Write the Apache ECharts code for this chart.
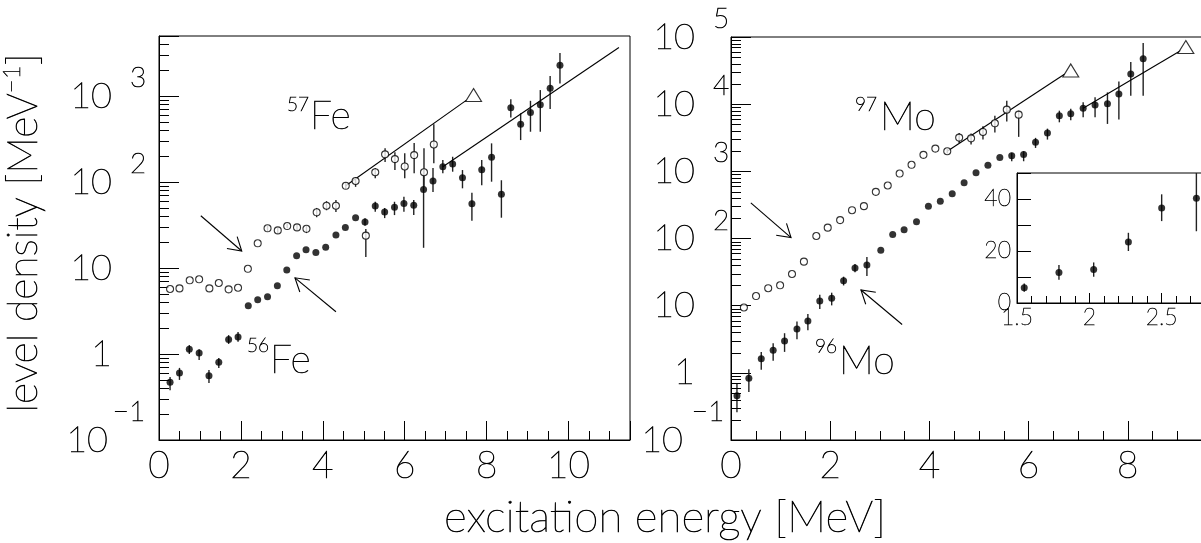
<!DOCTYPE html>
<html>
<head>
<meta charset="utf-8">
<script src="https://cdn.jsdelivr.net/npm/echarts@6/dist/echarts.min.js"></script>
<style>
  html, body { margin: 0; padding: 0; background: #fff; }
  #chart { width: 1201px; height: 543px; }
</style>
</head>
<body>
<div id="chart"></div>
<script>
// 57Fe (open circles) – excitation energy [MeV], level density [1/MeV], error bar ends
const fe57E = [0.27, 0.50, 0.75, 0.98, 1.23, 1.46, 1.70, 1.93, 2.17, 2.41, 2.65, 2.90, 3.13, 3.37, 3.60, 3.85, 4.09, 4.32, 4.56, 4.80, 5.05, 5.28, 5.52, 5.76, 6.00, 6.23, 6.47, 6.71];
const fe57V = [5.7, 5.8, 7.2, 7.4, 5.8, 6.7, 5.65, 5.9, 9.8, 19.4, 29, 27.4, 30.8, 29.7, 28.6, 44.5, 53, 53, 90.5, 103, 23.8, 130, 210, 185, 152, 206, 130, 274];
const fe57Lo = [null, null, null, null, null, null, null, null, null, null, 27, 25.5, 29, 27.5, 25.5, 39, 47, 45, 83, 88, 13.4, 111, 171, 138, 111, 127, 88, 166];
const fe57Hi = [null, null, null, null, null, null, null, null, null, null, 31, 29.5, 33, 32, 31, 50, 60, 62, 100, 114, 28.4, 146, 248, 223, 217, 284, 248, 472];

// 56Fe (filled circles)
const fe56E = [0.27, 0.50, 0.74, 0.98, 1.22, 1.46, 1.70, 1.93, 2.18, 2.41, 2.65, 2.89, 3.12, 3.36, 3.59, 3.83, 4.07, 4.32, 4.55, 4.80, 5.03, 5.28, 5.51, 5.75, 5.98, 6.22, 6.46, 6.69, 6.93, 7.17, 7.41, 7.64, 7.88, 8.12, 8.36, 8.59, 8.83, 9.07, 9.31, 9.55, 9.79];
const fe56V = [0.47, 0.60, 1.14, 1.03, 0.56, 0.80, 1.48, 1.58, 3.65, 4.28, 4.64, 6.23, 9.5, 13.9, 16.3, 15.2, 17.4, 24.2, 29.7, 38.5, 34.3, 52.6, 44.8, 50.8, 56.4, 53.6, 82, 103, 151, 162, 112, 55.8, 139, 194, 72, 731, 472, 646, 792, 1231, 2291];
const fe56Lo = [0.38, 0.50, 1.0, 0.85, 0.46, 0.69, 1.31, 1.39, null, null, null, null, null, null, null, null, null, null, null, null, 31, 45.2, 38.1, 41.3, 45.2, 41.3, 17.2, 76.5, 127, 132, 84.6, 35.5, 92, 101, 38.5, 565, 308, 385, 385, 706, 1405];
const fe56Hi = [0.54, 0.69, 1.27, 1.14, 0.65, 0.90, 1.66, 1.80, null, null, null, null, null, null, null, null, null, null, null, null, 38, 59, 49.9, 59, 67.5, 61.8, 138, 146, 180, 197, 138, 75.2, 180, 282, 105, 916, 630, 881, 1175, 1710, 3180];

// 97Mo (open circles)
const mo97E = [0.26, 0.505, 0.75, 0.99, 1.23, 1.47, 1.72, 1.95, 2.20, 2.44, 2.68, 2.92, 3.16, 3.40, 3.64, 3.88, 4.12, 4.36, 4.60, 4.84, 5.08, 5.32, 5.56, 5.80];
const mo97V = [9.4, 13.9, 18.2, 20.1, 29.6, 45.2, 109, 145, 188, 264, 303, 495, 615, 927, 1250, 1760, 2180, 1990, 3180, 3100, 3860, 5190, 8280, 6980];
const mo97Lo = [null, null, null, null, null, null, null, null, null, null, null, null, null, null, null, null, null, 1850, 2650, 2500, 2970, 3780, 5500, 3260];
const mo97Hi = [null, null, null, null, null, null, null, null, null, null, null, null, null, null, null, null, null, 2150, 3730, 3650, 4680, 6740, 11270, 8000];

// 96Mo (filled circles)
const mo96E = [0.12, 0.36, 0.61, 0.85, 1.08, 1.33, 1.55, 1.79, 2.03, 2.27, 2.50, 2.74, 3.02, 3.26, 3.49, 3.74, 3.98, 4.22, 4.46, 4.70, 4.94, 5.18, 5.42, 5.66, 5.90, 6.14, 6.38, 6.62, 6.85, 7.10, 7.34, 7.59, 7.82, 8.06, 8.31];
const mo96V = [0.455, 0.83, 1.62, 2.17, 2.99, 4.5, 5.9, 11.7, 12.9, 23.5, 36.5, 40.3, 67, 115, 135, 178, 303, 360, 463, 675, 950, 1233, 1604, 1700, 1777, 2710, 3730, 6750, 7230, 8670, 9730, 10170, 14180, 28100, 47400];
const mo96Lo = [0.26, 0.52, 1.11, 1.51, 2.05, 3.17, 4.3, 8.9, 10.1, 20, 31.5, 27.6, null, null, null, null, null, null, null, null, null, null, null, 1413, 1413, 2230, 2970, 5370, 5740, 6370, 6370, 5080, 5890, 13370, 13370];
const mo96Hi = [0.68, 1.135, 2.05, 2.76, 3.89, 5.81, 7.5, 14.6, 15.6, 27, 41.8, 53, null, null, null, null, null, null, null, null, null, null, null, 1884, 1990, 3150, 4320, 8000, 8570, 10640, 12630, 14970, 21800, 42400, 81100];

// fitted lines and normalisation points (triangles)
const fe57FitE = [4.56, 7.51], fe57FitV = [90.5, 897];
const fe56FitE = [6.93, 11.23], fe56FitV = [151, 3680];
const mo97FitE = [4.36, 6.73], mo97FitV = [1990, 28100];
const mo96FitE = [7.10, 9.07], mo96FitV = [8670, 63000];
const triFeE = [7.68], triFeV = [1030];
const triMoE = [6.85, 9.17], triMoV = [31800, 70800];

// arrows: [tailE, tailV, headE, headV]
const arrowsFe = [[1.02, 40.6, 2.02, 15.8], [4.32, 3.1, 3.32, 7.7]];
const arrowsMo = [[0.40, 340, 1.21, 103], [3.45, 5.24, 2.62, 17.1]];

// log-axis minor tick multipliers
const minorMult = [2, 3, 4, 5, 6, 7, 8, 9];
const FONT = 'Lato, "Open Sans", Roboto, sans-serif';
const FW = 200;
// thin font, thickened a little with a black outline
const TXT = { fontFamily: FONT, fontWeight: FW, color: '#000', textBorderColor: '#000', textBorderWidth: 0.7 };

function pairs(xs, ys) { return xs.map((x, i) => [x, ys[i]]); }
function bars(xs, lo, hi, e0, e1) {
  const out = [];
  xs.forEach((x, i) => {
    if (lo[i] == null) return;
    if (e0 != null && (x < e0 || x > e1)) return;
    out.push([x, lo[i], hi[i]]);
  });
  return out;
}
function minorTicks(x0, dMin, dMax, vMax) {
  const out = [];
  for (let d = dMin; d <= dMax * 1.0001; d *= 10) {
    minorMult.forEach(m => { const v = +(m * d).toPrecision(3); if (v < vMax) out.push([x0, v]); });
  }
  return out;
}

const chart = echarts.init(document.getElementById('chart'));

function logLabel(v) {
  const e = Math.round(Math.log10(v));
  if (Math.abs(Math.log10(v) - e) > 1e-6) return '';
  if (e === 0) return '{b|1}{f| }';
  if (e === 1) return '{b|10}{f| }';
  if (e < 0) return '{n|10}{m|\u2212' + (-e) + '}';
  return '{b|10}{e|' + e + '}';
}
function logRich(negWidth) {
  return {
    b: Object.assign({ fontSize: 36, lineHeight: 36 }, TXT),
    e: Object.assign({ fontSize: 28, lineHeight: 28, width: 20, align: 'left', padding: [0, 0, 36, 16] }, TXT),
    f: Object.assign({ fontSize: 28, lineHeight: 28, width: 20, align: 'left', padding: [0, 0, 0, 16] }, TXT),
    n: Object.assign({ fontSize: 36, lineHeight: 36 }, TXT),
    m: Object.assign({ fontSize: 28, lineHeight: 28, width: negWidth, align: 'left', padding: [0, 0, 56, 2] }, TXT)
  };
}

const black = { color: '#000', width: 1 };
function mainX(grid, max) {
  return {
    type: 'value', gridIndex: grid, min: 0, max: max, interval: 2,
    axisLine: { lineStyle: black },
    axisTick: { inside: true, length: 19, lineStyle: black },
    minorTick: { show: true, splitNumber: 4, length: 9, lineStyle: black },
    splitLine: { show: false },
    axisLabel: Object.assign({
      margin: 8, fontSize: 37, showMinLabel: true,
      formatter: v => (Math.abs(v % 2) < 1e-9 ? String(v) : '')
    }, TXT)
  };
}
function mainY(grid, max, margin, negWidth) {
  return {
    type: 'log', logBase: 10, gridIndex: grid, min: 0.1, max: max, splitNumber: 10,
    axisLine: { lineStyle: black },
    axisTick: { inside: true, length: 20, lineStyle: black },
    splitLine: { show: false },
    axisLabel: { margin: margin, formatter: logLabel, rich: logRich(negWidth), hideOverlap: false, showMinLabel: true, showMaxLabel: true }
  };
}

function errorSeries(xi, yi, data, clip) {
  return {
    type: 'custom', xAxisIndex: xi, yAxisIndex: yi, data: data, z: 2, silent: true, clip: !!clip,
    encode: { x: 0, y: [1, 2] },
    renderItem: function (params, api) {
      const x = api.value(0);
      const a = api.coord([x, api.value(2)]);
      const b = api.coord([x, api.value(1)]);
      return { type: 'line', shape: { x1: a[0], y1: a[1], x2: b[0], y2: b[1] }, style: { stroke: '#222', lineWidth: 1.4 } };
    }
  };
}
function minorSeries(xi, yi, data) {
  return {
    type: 'custom', xAxisIndex: xi, yAxisIndex: yi, data: data, z: 3, silent: true,
    encode: { x: 0, y: 1 },
    renderItem: function (params, api) {
      const p = api.coord([api.value(0), api.value(1)]);
      const y = Math.round(p[1]) + 0.5;
      return { type: 'line', shape: { x1: p[0], y1: y, x2: p[0] + 10, y2: y }, style: { stroke: '#000', lineWidth: 1 } };
    }
  };
}
function arrowSeries(xi, yi, data) {
  return {
    type: 'custom', xAxisIndex: xi, yAxisIndex: yi, data: data, z: 4, silent: true,
    encode: { x: [0, 2], y: [1, 3] },
    renderItem: function (params, api) {
      const t = api.coord([api.value(0), api.value(1)]);
      const h = api.coord([api.value(2), api.value(3)]);
      const ang = Math.atan2(t[1] - h[1], t[0] - h[0]);
      const L = 15, w = 0.55;
      const w1 = [h[0] + L * Math.cos(ang + w), h[1] + L * Math.sin(ang + w)];
      const w2 = [h[0] + L * Math.cos(ang - w), h[1] + L * Math.sin(ang - w)];
      const st = { stroke: '#000', lineWidth: 1.1, fill: null };
      return {
        type: 'group', children: [
          { type: 'line', shape: { x1: t[0], y1: t[1], x2: h[0], y2: h[1] }, style: st },
          { type: 'polyline', shape: { points: [w1, h, w2] }, style: st }
        ]
      };
    }
  };
}
function dots(xi, yi, data, open) {
  return {
    type: 'scatter', xAxisIndex: xi, yAxisIndex: yi, data: data, z: 5, silent: true,
    symbol: 'circle', symbolSize: 7,
    itemStyle: open ? { color: '#fff', borderColor: '#000', borderWidth: 1.1 } : { color: '#000' }
  };
}
function fitLine(xi, yi, xs, ys) {
  return {
    type: 'line', xAxisIndex: xi, yAxisIndex: yi, data: pairs(xs, ys), z: 4, silent: true,
    symbol: 'none', lineStyle: { color: '#000', width: 1.1 }
  };
}
function triangles(xi, yi, xs, ys) {
  return {
    type: 'scatter', xAxisIndex: xi, yAxisIndex: yi, data: pairs(xs, ys), z: 5, silent: true,
    symbol: 'triangle', symbolSize: [16, 13],
    itemStyle: { color: '#fff', borderColor: '#000', borderWidth: 1.1 }
  };
}

function label(x, y, txt, size) {
  return { type: 'text', x: x, y: y, z: 10,
    style: { text: txt, fontSize: size, fontFamily: FONT, fontWeight: FW, fill: '#000', stroke: '#000', lineWidth: 0.7, align: 'left', verticalAlign: 'middle' } };
}

const option = {
  backgroundColor: '#fff',
  animation: false,
  grid: [
    { left: 159, top: 36, width: 471, height: 404, show: true, borderColor: '#000', borderWidth: 1, outerBoundsMode: 'none', containLabel: false },
    { left: 731, top: 37, width: 496, height: 403, show: true, borderColor: '#000', borderWidth: 1, outerBoundsMode: 'none', containLabel: false },
    { left: 1017, top: 173, width: 217, height: 130, show: true, borderColor: '#000', borderWidth: 1, backgroundColor: '#fff', z: 6, outerBoundsMode: 'none', containLabel: false }
  ],
  xAxis: [
    mainX(0, 11.5),
    mainX(1, 10),
    {
      type: 'value', gridIndex: 2, min: 1.5, max: 3, interval: 0.5, z: 7,
      axisLine: { lineStyle: black },
      axisTick: { inside: true, length: 10, lineStyle: black },
      minorTick: { show: true, splitNumber: 5, length: 7, lineStyle: black },
      splitLine: { show: false },
      axisLabel: Object.assign({ margin: 3, fontSize: 23, showMinLabel: true }, TXT, { textBorderWidth: 0.5 })
    }
  ],
  yAxis: [
    mainY(0, 5000, 11, 38),
    mainY(1, 100000, 0, 46),
    {
      type: 'value', gridIndex: 2, min: 0, max: 50, interval: 10, z: 7,
      axisLine: { lineStyle: black },
      axisTick: { inside: true, length: 14, lineStyle: black },
      splitLine: { show: false },
      axisLabel: Object.assign({
        margin: 6, fontSize: 23, showMinLabel: true,
        formatter: v => (v % 20 === 0 ? String(v) : '')
      }, TXT, { textBorderWidth: 0.5 })
    }
  ],
  series: [
    minorSeries(0, 0, minorTicks(0, 0.1, 1000, 5000)),
    minorSeries(1, 1, minorTicks(0, 0.1, 10000, 100000)),
    errorSeries(0, 0, bars(fe57E, fe57Lo, fe57Hi)),
    errorSeries(0, 0, bars(fe56E, fe56Lo, fe56Hi)),
    errorSeries(1, 1, bars(mo97E, mo97Lo, mo97Hi)),
    errorSeries(1, 1, bars(mo96E, mo96Lo, mo96Hi)),
    fitLine(0, 0, fe57FitE, fe57FitV),
    fitLine(0, 0, fe56FitE, fe56FitV),
    fitLine(1, 1, mo97FitE, mo97FitV),
    fitLine(1, 1, mo96FitE, mo96FitV),
    triangles(0, 0, triFeE, triFeV),
    triangles(1, 1, triMoE, triMoV),
    arrowSeries(0, 0, arrowsFe),
    arrowSeries(1, 1, arrowsMo),
    dots(0, 0, pairs(fe57E, fe57V), true),
    dots(0, 0, pairs(fe56E, fe56V), false),
    dots(1, 1, pairs(mo97E, mo97V), true),
    dots(1, 1, pairs(mo96E, mo96V), false),
    // inset: low-energy part of 96Mo on a linear scale
    Object.assign(errorSeries(2, 2, bars(mo96E, mo96Lo, mo96Hi, 1.5, 3), true), { z: 8 }),
    Object.assign(dots(2, 2, pairs(mo96E, mo96V).filter(p => p[0] >= 1.5 && p[0] <= 3), false), { z: 9 })
  ],
  graphic: [
    label(287, 105, '57', 19), label(310, 116, 'Fe', 39),
    label(247, 346, '56', 19), label(270, 360, 'Fe', 39),
    label(855, 105, '97', 19), label(880, 117, 'Mo', 39),
    label(815, 347, '96', 19), label(839, 361, 'Mo', 39),
    { type: 'text', x: 665, y: 518, z: 10,
      style: { text: 'excita\u200Ction energy [MeV]', fontSize: 44, fontFamily: FONT, fontWeight: FW, fill: '#000', stroke: '#000', lineWidth: 0.7, align: 'center', verticalAlign: 'middle' } },
    { type: 'text', x: 24, y: 233, rotation: Math.PI / 2, z: 10,
      style: {
        text: '{a|level density [MeV}{s|\u22121}{a|]}', align: 'center', verticalAlign: 'middle',
        rich: {
          a: { fontSize: 41, lineHeight: 41, fontFamily: FONT, fontWeight: FW, fill: '#000', stroke: '#000', lineWidth: 0.7 },
          s: { fontSize: 24, lineHeight: 24, fontFamily: FONT, fontWeight: FW, fill: '#000', stroke: '#000', lineWidth: 0.6, padding: [0, 0, 24, 0] }
        }
      } }
  ]
};

chart.setOption(option);
</script>
</body>
</html>
